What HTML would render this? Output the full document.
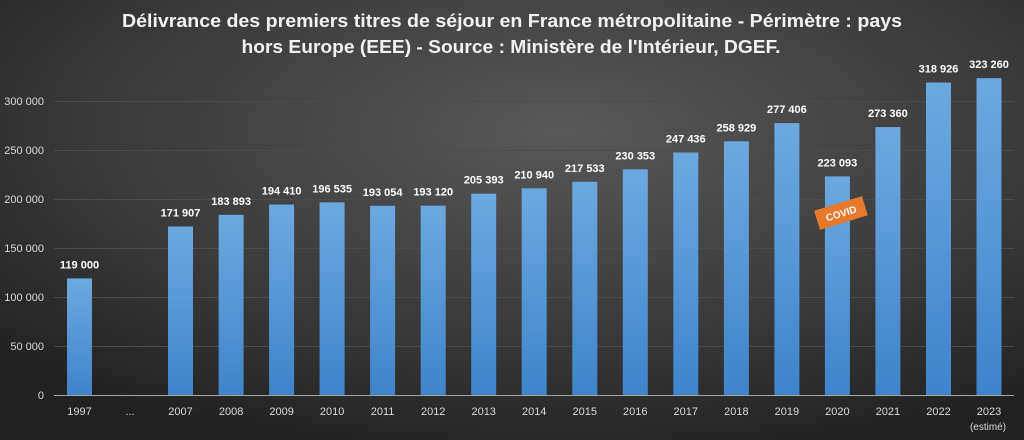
<!DOCTYPE html>
<html><head><meta charset="utf-8"><style>
html,body{margin:0;padding:0;width:1024px;height:440px;overflow:hidden;background:#333}
svg{display:block}
text{font-family:"Liberation Sans",sans-serif}
</style></head><body>
<svg width="1024" height="440" viewBox="0 0 1024 440" xmlns="http://www.w3.org/2000/svg">
<defs>
<radialGradient id="bg" cx="0.55" cy="0.3" r="0.75">
<stop offset="0" stop-color="#585858"/><stop offset="0.6" stop-color="#3a3a3a"/><stop offset="1" stop-color="#222"/>
</radialGradient>
<linearGradient id="bar" x1="0" y1="0" x2="0" y2="1">
<stop offset="0" stop-color="#6da9e0"/><stop offset="1" stop-color="#3f84ca"/>
</linearGradient>
</defs>
<rect width="1024" height="440" fill="url(#bg)"/>
<text x="512" y="27" fill="#f2f2f2" font-size="18" font-weight="bold" text-anchor="middle" textLength="780" lengthAdjust="spacingAndGlyphs">Délivrance des premiers titres de séjour en France métropolitaine - Périmètre : pays</text>
<text x="511" y="53" fill="#f2f2f2" font-size="18" font-weight="bold" text-anchor="middle" textLength="539" lengthAdjust="spacingAndGlyphs">hors Europe (EEE) - Source : Ministère de l'Intérieur, DGEF.</text>
<g stroke="#4c4c4c" stroke-width="1">
<line x1="54" x2="1014" y1="346.5" y2="346.5"/><line x1="54" x2="1014" y1="297.5" y2="297.5"/>
<line x1="54" x2="1014" y1="248.5" y2="248.5"/><line x1="54" x2="1014" y1="199.5" y2="199.5"/>
<line x1="54" x2="1014" y1="150.5" y2="150.5"/><line x1="54" x2="1014" y1="101.5" y2="101.5"/>
</g>
<g fill="#d9d9d9" font-size="11" text-anchor="end">
<text x="44" y="399">0</text><text x="44" y="350">50 000</text><text x="44" y="301">100 000</text>
<text x="44" y="252">150 000</text><text x="44" y="203">200 000</text><text x="44" y="154">250 000</text><text x="44" y="105">300 000</text>
</g>
<g fill="url(#bar)">
<rect x="67.0" y="278.4" width="25" height="116.6"/>
<rect x="168.0" y="226.5" width="25" height="168.5"/>
<rect x="218.6" y="214.8" width="25" height="180.2"/>
<rect x="269.1" y="204.5" width="25" height="190.5"/>
<rect x="319.6" y="202.4" width="25" height="192.6"/>
<rect x="370.1" y="205.8" width="25" height="189.2"/>
<rect x="420.7" y="205.7" width="25" height="189.3"/>
<rect x="471.2" y="193.7" width="25" height="201.3"/>
<rect x="521.7" y="188.3" width="25" height="206.7"/>
<rect x="572.3" y="181.8" width="25" height="213.2"/>
<rect x="622.8" y="169.3" width="25" height="225.7"/>
<rect x="673.3" y="152.5" width="25" height="242.5"/>
<rect x="723.9" y="141.3" width="25" height="253.7"/>
<rect x="774.4" y="123.1" width="25" height="271.9"/>
<rect x="824.9" y="176.4" width="25" height="218.6"/>
<rect x="875.4" y="127.1" width="25" height="267.9"/>
<rect x="926.0" y="82.5" width="25" height="312.5"/>
<rect x="976.5" y="78.2" width="25" height="316.8"/>
</g>
<g fill="#fff" font-size="11" font-weight="bold" text-anchor="middle">
<text x="79.5" y="268.4">119 000</text>
<text x="180.5" y="216.5">171 907</text>
<text x="231.1" y="204.8">183 893</text>
<text x="281.6" y="194.5">194 410</text>
<text x="332.1" y="192.4">196 535</text>
<text x="382.6" y="195.8">193 054</text>
<text x="433.2" y="195.7">193 120</text>
<text x="483.7" y="183.7">205 393</text>
<text x="534.2" y="178.3">210 940</text>
<text x="584.8" y="171.8">217 533</text>
<text x="635.3" y="159.3">230 353</text>
<text x="685.8" y="142.5">247 436</text>
<text x="736.4" y="131.3">258 929</text>
<text x="786.9" y="113.1">277 406</text>
<text x="837.4" y="166.4">223 093</text>
<text x="887.9" y="117.1">273 360</text>
<text x="938.5" y="72.5">318 926</text>
<text x="989.0" y="68.2">323 260</text>
</g>
<g fill="#d9d9d9" font-size="11" text-anchor="middle">
<text x="79.5" y="415">1997</text><text x="130.0" y="415">...</text>
<text x="180.5" y="415">2007</text><text x="231.1" y="415">2008</text><text x="281.6" y="415">2009</text>
<text x="332.1" y="415">2010</text><text x="382.6" y="415">2011</text><text x="433.2" y="415">2012</text>
<text x="483.7" y="415">2013</text><text x="534.2" y="415">2014</text><text x="584.8" y="415">2015</text>
<text x="635.3" y="415">2016</text><text x="685.8" y="415">2017</text><text x="736.4" y="415">2018</text>
<text x="786.9" y="415">2019</text><text x="837.4" y="415">2020</text><text x="887.9" y="415">2021</text>
<text x="938.5" y="415">2022</text><text x="989.0" y="415">2023</text>
<text x="988" y="430" font-size="10">(estimé)</text>
</g>
<line x1="54" x2="1014" y1="395.5" y2="395.5" stroke="#a6a6a6" stroke-width="1"/>
<g transform="translate(841,213) rotate(-17)">
<rect x="-25" y="-10" width="50" height="20" fill="#e8782a"/>
<text x="0" y="4" fill="#fff" font-size="10" font-weight="bold" text-anchor="middle">COVID</text>
</g>
</svg>
</body></html>
